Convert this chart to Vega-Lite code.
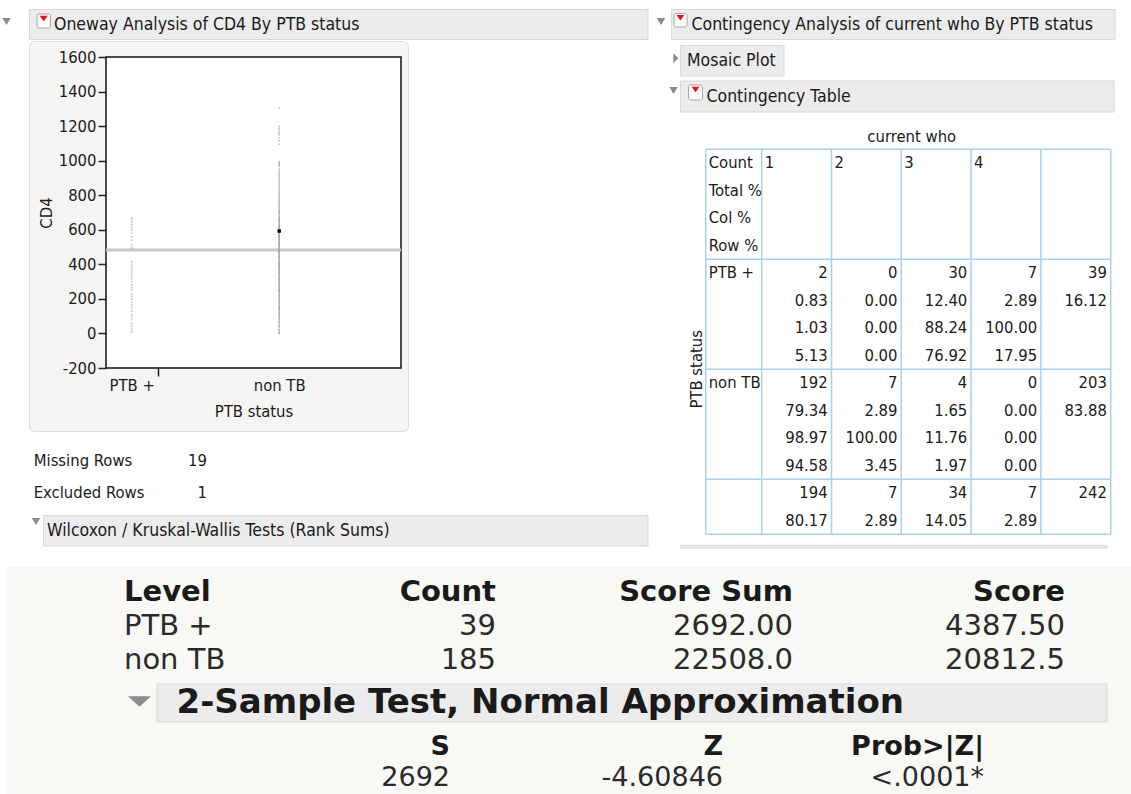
{
"$schema":"https://vega.github.io/schema/vega-lite/v6.json",
"width":1131,"height":794,"padding":0,"autosize":{"type":"none"},
"background":"#ffffff",
"config":{"view":{"stroke":null},"text":{"font":"DejaVu Sans Condensed","fontSize":16.5,"color":"#1a1a1a"}},
"datasets":{
"one":[{}],
"cd4":[
{"g":"PTB +","v":5},{"g":"PTB +","v":15},{"g":"PTB +","v":30},{"g":"PTB +","v":45},{"g":"PTB +","v":60},{"g":"PTB +","v":80},{"g":"PTB +","v":97},{"g":"PTB +","v":110},{"g":"PTB +","v":130},{"g":"PTB +","v":150},
{"g":"PTB +","v":165},{"g":"PTB +","v":180},{"g":"PTB +","v":200},{"g":"PTB +","v":215},{"g":"PTB +","v":230},{"g":"PTB +","v":251},{"g":"PTB +","v":265},{"g":"PTB +","v":280},{"g":"PTB +","v":300},{"g":"PTB +","v":315},
{"g":"PTB +","v":328},{"g":"PTB +","v":340},{"g":"PTB +","v":355},{"g":"PTB +","v":370},{"g":"PTB +","v":385},{"g":"PTB +","v":400},{"g":"PTB +","v":415},{"g":"PTB +","v":490},{"g":"PTB +","v":500},{"g":"PTB +","v":515},
{"g":"PTB +","v":540},{"g":"PTB +","v":560},{"g":"PTB +","v":580},{"g":"PTB +","v":600},{"g":"PTB +","v":615},{"g":"PTB +","v":630},{"g":"PTB +","v":645},{"g":"PTB +","v":660},{"g":"PTB +","v":670},
{"g":"non TB","v":1303},{"g":"non TB","v":1198},{"g":"non TB","v":1185},{"g":"non TB","v":1170},{"g":"non TB","v":1160},{"g":"non TB","v":1150},{"g":"non TB","v":1132},{"g":"non TB","v":1115},{"g":"non TB","v":1095},
{"g":"non TB","v":0},{"g":"non TB","v":2},{"g":"non TB","v":9},{"g":"non TB","v":18},{"g":"non TB","v":22},{"g":"non TB","v":35},{"g":"non TB","v":41},{"g":"non TB","v":47},{"g":"non TB","v":58},{"g":"non TB","v":64},
{"g":"non TB","v":71},{"g":"non TB","v":80},{"g":"non TB","v":86},{"g":"non TB","v":93},{"g":"non TB","v":99},{"g":"non TB","v":104},{"g":"non TB","v":112},{"g":"non TB","v":118},{"g":"non TB","v":121},{"g":"non TB","v":128},
{"g":"non TB","v":135},{"g":"non TB","v":140},{"g":"non TB","v":146},{"g":"non TB","v":151},{"g":"non TB","v":158},{"g":"non TB","v":163},{"g":"non TB","v":170},{"g":"non TB","v":174},{"g":"non TB","v":181},{"g":"non TB","v":187},
{"g":"non TB","v":192},{"g":"non TB","v":199},{"g":"non TB","v":204},{"g":"non TB","v":210},{"g":"non TB","v":215},{"g":"non TB","v":221},{"g":"non TB","v":228},{"g":"non TB","v":233},{"g":"non TB","v":240},{"g":"non TB","v":245},
{"g":"non TB","v":250},{"g":"non TB","v":256},{"g":"non TB","v":262},{"g":"non TB","v":268},{"g":"non TB","v":273},{"g":"non TB","v":279},{"g":"non TB","v":284},{"g":"non TB","v":290},{"g":"non TB","v":296},{"g":"non TB","v":301},
{"g":"non TB","v":307},{"g":"non TB","v":312},{"g":"non TB","v":318},{"g":"non TB","v":323},{"g":"non TB","v":330},{"g":"non TB","v":336},{"g":"non TB","v":341},{"g":"non TB","v":347},{"g":"non TB","v":352},{"g":"non TB","v":358},
{"g":"non TB","v":363},{"g":"non TB","v":369},{"g":"non TB","v":375},{"g":"non TB","v":380},{"g":"non TB","v":386},{"g":"non TB","v":391},{"g":"non TB","v":397},{"g":"non TB","v":402},{"g":"non TB","v":408},{"g":"non TB","v":414},
{"g":"non TB","v":419},{"g":"non TB","v":425},{"g":"non TB","v":430},{"g":"non TB","v":436},{"g":"non TB","v":441},{"g":"non TB","v":447},{"g":"non TB","v":452},{"g":"non TB","v":458},{"g":"non TB","v":463},{"g":"non TB","v":469},
{"g":"non TB","v":474},{"g":"non TB","v":480},{"g":"non TB","v":486},{"g":"non TB","v":491},{"g":"non TB","v":497},{"g":"non TB","v":502},{"g":"non TB","v":508},{"g":"non TB","v":513},{"g":"non TB","v":519},{"g":"non TB","v":524},
{"g":"non TB","v":530},{"g":"non TB","v":535},{"g":"non TB","v":541},{"g":"non TB","v":546},{"g":"non TB","v":552},{"g":"non TB","v":558},{"g":"non TB","v":563},{"g":"non TB","v":569},{"g":"non TB","v":574},{"g":"non TB","v":580},
{"g":"non TB","v":585},{"g":"non TB","v":591},{"g":"non TB","v":593,"sel":true},{"g":"non TB","v":602},{"g":"non TB","v":608},{"g":"non TB","v":613},{"g":"non TB","v":619},{"g":"non TB","v":624},{"g":"non TB","v":630},{"g":"non TB","v":636},
{"g":"non TB","v":641},{"g":"non TB","v":647},{"g":"non TB","v":652},{"g":"non TB","v":658},{"g":"non TB","v":664},{"g":"non TB","v":670},{"g":"non TB","v":676},{"g":"non TB","v":683},{"g":"non TB","v":690},{"g":"non TB","v":698},
{"g":"non TB","v":705},{"g":"non TB","v":712},{"g":"non TB","v":720},{"g":"non TB","v":728},{"g":"non TB","v":735},{"g":"non TB","v":743},{"g":"non TB","v":750},{"g":"non TB","v":758},{"g":"non TB","v":766},{"g":"non TB","v":775},
{"g":"non TB","v":783},{"g":"non TB","v":792},{"g":"non TB","v":800},{"g":"non TB","v":810},{"g":"non TB","v":818},{"g":"non TB","v":827},{"g":"non TB","v":836},{"g":"non TB","v":845},{"g":"non TB","v":855},{"g":"non TB","v":864},
{"g":"non TB","v":874},{"g":"non TB","v":884},{"g":"non TB","v":893},{"g":"non TB","v":903},{"g":"non TB","v":913},{"g":"non TB","v":922},{"g":"non TB","v":932},{"g":"non TB","v":942},{"g":"non TB","v":955},{"g":"non TB","v":968},
{"g":"non TB","v":975},{"g":"non TB","v":982},{"g":"non TB","v":988},{"g":"non TB","v":994},{"g":"non TB","v":600},{"g":"non TB","v":410},{"g":"non TB","v":320},{"g":"non TB","v":560},{"g":"non TB","v":250},{"g":"non TB","v":150},
{"g":"non TB","v":480},{"g":"non TB","v":520},{"g":"non TB","v":540},{"g":"non TB","v":380},{"g":"non TB","v":445},{"g":"non TB","v":505},{"g":"non TB","v":610},{"g":"non TB","v":660},{"g":"non TB","v":295},{"g":"non TB","v":355},
{"g":"non TB","v":395},{"g":"non TB","v":470},{"g":"non TB","v":515},{"g":"non TB","v":575},{"g":"non TB","v":620},{"g":"non TB","v":700}
],
"ct":[
{"col":0,"line":0,"t":"Count"},{"col":1,"line":0,"t":"1"},{"col":2,"line":0,"t":"2"},{"col":3,"line":0,"t":"3"},{"col":4,"line":0,"t":"4"},
{"col":0,"line":1,"t":"Total %"},{"col":0,"line":2,"t":"Col %"},{"col":0,"line":3,"t":"Row %"},
{"col":0,"line":4,"t":"PTB +"},{"col":1,"line":4,"t":"2"},{"col":2,"line":4,"t":"0"},{"col":3,"line":4,"t":"30"},{"col":4,"line":4,"t":"7"},{"col":5,"line":4,"t":"39"},
{"col":1,"line":5,"t":"0.83"},{"col":2,"line":5,"t":"0.00"},{"col":3,"line":5,"t":"12.40"},{"col":4,"line":5,"t":"2.89"},{"col":5,"line":5,"t":"16.12"},
{"col":1,"line":6,"t":"1.03"},{"col":2,"line":6,"t":"0.00"},{"col":3,"line":6,"t":"88.24"},{"col":4,"line":6,"t":"100.00"},
{"col":1,"line":7,"t":"5.13"},{"col":2,"line":7,"t":"0.00"},{"col":3,"line":7,"t":"76.92"},{"col":4,"line":7,"t":"17.95"},
{"col":0,"line":8,"t":"non TB"},{"col":1,"line":8,"t":"192"},{"col":2,"line":8,"t":"7"},{"col":3,"line":8,"t":"4"},{"col":4,"line":8,"t":"0"},{"col":5,"line":8,"t":"203"},
{"col":1,"line":9,"t":"79.34"},{"col":2,"line":9,"t":"2.89"},{"col":3,"line":9,"t":"1.65"},{"col":4,"line":9,"t":"0.00"},{"col":5,"line":9,"t":"83.88"},
{"col":1,"line":10,"t":"98.97"},{"col":2,"line":10,"t":"100.00"},{"col":3,"line":10,"t":"11.76"},{"col":4,"line":10,"t":"0.00"},
{"col":1,"line":11,"t":"94.58"},{"col":2,"line":11,"t":"3.45"},{"col":3,"line":11,"t":"1.97"},{"col":4,"line":11,"t":"0.00"},
{"col":1,"line":12,"t":"194"},{"col":2,"line":12,"t":"7"},{"col":3,"line":12,"t":"34"},{"col":4,"line":12,"t":"7"},{"col":5,"line":12,"t":"242"},
{"col":1,"line":13,"t":"80.17"},{"col":2,"line":13,"t":"2.89"},{"col":3,"line":13,"t":"14.05"},{"col":4,"line":13,"t":"2.89"}
],
"gv":[{"e":0},{"e":1},{"e":2},{"e":3},{"e":4},{"e":5},{"e":6}],
"gh":[{"h":0},{"h":4},{"h":8},{"h":12},{"h":14}],
"miss":[{"r":0,"k":"Missing Rows","n":"19"},{"r":1,"k":"Excluded Rows","n":"1"}],
"rs":[
{"c":0,"r":0,"t":"Level"},{"c":1,"r":0,"t":"Count"},{"c":2,"r":0,"t":"Score Sum"},{"c":3,"r":0,"t":"Score"},
{"c":0,"r":1,"t":"PTB +"},{"c":1,"r":1,"t":"39"},{"c":2,"r":1,"t":"2692.00"},{"c":3,"r":1,"t":"4387.50"},
{"c":0,"r":2,"t":"non TB"},{"c":1,"r":2,"t":"185"},{"c":2,"r":2,"t":"22508.0"},{"c":3,"r":2,"t":"20812.5"}
],
"ts":[
{"c":0,"r":0,"t":"S"},{"c":1,"r":0,"t":"Z"},{"c":2,"r":0,"t":"Prob>|Z|"},
{"c":0,"r":1,"t":"2692"},{"c":1,"r":1,"t":"-4.60846"},{"c":2,"r":1,"t":"<.0001*"}
]
},
"layer":[
{"data":{"name":"one"},"mark":{"type":"rect","fill":"#f8f8f5"},"encoding":{"x":{"value":7},"x2":{"value":1131},"y":{"value":567},"y2":{"value":794}}},
{"data":{"name":"one"},"mark":{"type":"rect","fill":"#f5f5f4","stroke":"#dedede","strokeWidth":1,"cornerRadius":5},"encoding":{"x":{"value":29.5},"x2":{"value":408.5},"y":{"value":41.5},"y2":{"value":431.5}}},
{"data":{"name":"one"},"mark":{"type":"rect","fill":"#ececec","stroke":"#d8d8d8","strokeWidth":1},"encoding":{"x":{"value":29.5},"x2":{"value":648},"y":{"value":9.5},"y2":{"value":39.5}}},
{"data":{"name":"one"},"mark":{"type":"rect","fill":"#ececec","stroke":"#d8d8d8","strokeWidth":1},"encoding":{"x":{"value":671.5},"x2":{"value":1115},"y":{"value":9.5},"y2":{"value":39.5}}},
{"data":{"name":"one"},"mark":{"type":"rect","fill":"#ececec","stroke":"#d8d8d8","strokeWidth":1},"encoding":{"x":{"value":680.5},"x2":{"value":784},"y":{"value":45.5},"y2":{"value":76}}},
{"data":{"name":"one"},"mark":{"type":"rect","fill":"#ececec","stroke":"#d8d8d8","strokeWidth":1},"encoding":{"x":{"value":680.5},"x2":{"value":1114},"y":{"value":81},"y2":{"value":112}}},
{"data":{"name":"one"},"mark":{"type":"rect","fill":"#ececec","stroke":"#d8d8d8","strokeWidth":1},"encoding":{"x":{"value":43.5},"x2":{"value":648},"y":{"value":515.5},"y2":{"value":546}}},
{"data":{"name":"one"},"mark":{"type":"rect","fill":"#ececec","stroke":"#d8d8d8","strokeWidth":1},"encoding":{"x":{"value":680.5},"x2":{"value":1107},"y":{"value":545.5},"y2":{"value":548}}},
{"data":{"name":"one"},"mark":{"type":"rect","fill":"#ececec","stroke":"#d8d8d8","strokeWidth":1},"encoding":{"x":{"value":157},"x2":{"value":1107},"y":{"value":684},"y2":{"value":722}}},
{"data":{"name":"one"},"mark":{"type":"rect","fill":"#fbfbfb","stroke":"#a8a8a8","strokeWidth":1,"cornerRadius":2},"encoding":{"x":{"value":37},"x2":{"value":50.5},"y":{"value":14},"y2":{"value":28}}},
{"data":{"name":"one"},"mark":{"type":"rect","fill":"#fbfbfb","stroke":"#a8a8a8","strokeWidth":1,"cornerRadius":2},"encoding":{"x":{"value":674},"x2":{"value":687},"y":{"value":13.5},"y2":{"value":27}}},
{"data":{"name":"one"},"mark":{"type":"rect","fill":"#fbfbfb","stroke":"#a8a8a8","strokeWidth":1,"cornerRadius":2},"encoding":{"x":{"value":688.5},"x2":{"value":702.5},"y":{"value":85},"y2":{"value":100}}},
{"data":{"name":"one"},"mark":{"type":"point","shape":"M-1,-0.7L1,-0.7L0,0.7Z","size":64,"filled":true,"color":"#e3101a","opacity":1},"encoding":{"x":{"value":43.7},"y":{"value":18.5}}},
{"data":{"name":"one"},"mark":{"type":"point","shape":"M-1,-0.7L1,-0.7L0,0.7Z","size":64,"filled":true,"color":"#e3101a","opacity":1},"encoding":{"x":{"value":680.4},"y":{"value":17.8}}},
{"data":{"name":"one"},"mark":{"type":"point","shape":"M-1,-0.7L1,-0.7L0,0.7Z","size":64,"filled":true,"color":"#e3101a","opacity":1},"encoding":{"x":{"value":695.5},"y":{"value":89.5}}},
{"data":{"name":"one"},"mark":{"type":"point","shape":"M-1,-0.8L1,-0.8L0,0.8Z","size":72,"filled":true,"color":"#8c8c8c","opacity":1},"encoding":{"x":{"value":6.5},"y":{"value":21.5}}},
{"data":{"name":"one"},"mark":{"type":"point","shape":"M-1,-0.8L1,-0.8L0,0.8Z","size":72,"filled":true,"color":"#8c8c8c","opacity":1},"encoding":{"x":{"value":661},"y":{"value":21.5}}},
{"data":{"name":"one"},"mark":{"type":"point","shape":"M-0.5,-1L0.5,0L-0.5,1Z","size":100,"filled":true,"color":"#8c8c8c","opacity":1},"encoding":{"x":{"value":675.8},"y":{"value":58.3}}},
{"data":{"name":"one"},"mark":{"type":"point","shape":"M-1,-0.8L1,-0.8L0,0.8Z","size":72,"filled":true,"color":"#8c8c8c","opacity":1},"encoding":{"x":{"value":673.5},"y":{"value":90.5}}},
{"data":{"name":"one"},"mark":{"type":"point","shape":"M-1,-0.8L1,-0.8L0,0.8Z","size":72,"filled":true,"color":"#8c8c8c","opacity":1},"encoding":{"x":{"value":36},"y":{"value":521.5}}},
{"data":{"name":"one"},"mark":{"type":"point","shape":"M-1,-0.45L1,-0.45L0,0.45Z","size":529,"filled":true,"color":"#8c8c8c","opacity":1},"encoding":{"x":{"value":139.5},"y":{"value":701.5}}},
{"data":{"name":"one"},"mark":{"type":"text","align":"left","baseline":"middle","fontSize":17.5,"text":"Oneway Analysis of CD4 By PTB status"},"encoding":{"x":{"value":54},"y":{"value":24.5}}},
{"data":{"name":"one"},"mark":{"type":"text","align":"left","baseline":"middle","fontSize":17.5,"text":"Contingency Analysis of current who By PTB status"},"encoding":{"x":{"value":691.5},"y":{"value":24.5}}},
{"data":{"name":"one"},"mark":{"type":"text","align":"left","baseline":"middle","fontSize":17.5,"text":"Mosaic Plot"},"encoding":{"x":{"value":687},"y":{"value":61}}},
{"data":{"name":"one"},"mark":{"type":"text","align":"left","baseline":"middle","fontSize":17.5,"text":"Contingency Table"},"encoding":{"x":{"value":706.5},"y":{"value":96.7}}},
{"data":{"name":"one"},"mark":{"type":"text","align":"left","baseline":"middle","fontSize":17.5,"text":"Wilcoxon / Kruskal-Wallis Tests (Rank Sums)"},"encoding":{"x":{"value":47},"y":{"value":531}}},
{"data":{"name":"one"},"mark":{"type":"text","align":"left","baseline":"middle","fontSize":34,"font":"DejaVu Sans","fontWeight":"bold","color":"#1a1a1a","text":"2-Sample Test, Normal Approximation"},"encoding":{"x":{"value":176.5},"y":{"value":703}}},
{"data":{"name":"miss"},"layer":[
 {"mark":{"type":"text","align":"left","baseline":"middle"},"encoding":{"x":{"value":33.7},"y":{"field":"r","type":"quantitative","scale":{"domain":[0,1],"range":[461,493]},"axis":null},"text":{"field":"k"}}},
 {"mark":{"type":"text","align":"right","baseline":"middle"},"encoding":{"x":{"value":207},"y":{"field":"r","type":"quantitative","scale":{"domain":[0,1],"range":[461,493]},"axis":null},"text":{"field":"n"}}}
]},
{"layer":[
 {"layer":[
  {"data":{"name":"one"},"mark":{"type":"rect","fill":"#ffffff","stroke":"#111111","strokeWidth":1.5},"encoding":{"x":{"datum":0,"type":"quantitative","scale":{"domain":[0,1],"range":[106,401]},"axis":null},"x2":{"datum":1},"y":{"datum":-200,"type":"quantitative","scale":{"domain":[-200,1600],"range":[368,57],"nice":false,"zero":false},"axis":null},"y2":{"datum":1600}}},
  {"data":{"name":"one"},"mark":{"type":"rule","color":"#c9c9c9","strokeWidth":3},"encoding":{"x":{"datum":0,"type":"quantitative","axis":null},"x2":{"datum":1},"y":{"datum":483,"type":"quantitative","axis":null}}}
 ]},
 {"data":{"name":"cd4"},"layer":[
  {"mark":{"type":"square","size":3,"color":"#9a9a9a","opacity":0.55},
   "encoding":{
    "x":{"field":"g","type":"nominal","scale":{"type":"point","domain":["PTB +","non TB"],"range":[106,401],"padding":0.5,"align":0.174},
      "axis":{"orient":"bottom","offset":-426,"zindex":1,"title":"PTB status","titleFont":"DejaVu Sans Condensed","titleFontSize":16.5,"titleFontWeight":"normal","titleColor":"#1a1a1a","titleX":253.5,"titleY":43,"titleBaseline":"middle","labelFont":"DejaVu Sans Condensed","labelFontSize":16.5,"labelColor":"#1a1a1a","labelAngle":0,"labelPadding":1,"labelOffset":-26,"tickSize":8,"tickWidth":1.5,"tickOffset":26,"tickColor":{"condition":{"test":"datum.value === 'PTB +'","value":"#222222"},"value":"transparent"},"domain":false,"grid":false}},
    "y":{"field":"v","type":"quantitative","scale":{"domain":[-200,1600],"range":[368,57],"nice":false,"zero":false},
      "axis":{"orient":"left","offset":-106,"zindex":1,"values":[-200,0,200,400,600,800,1000,1200,1400,1600],"labelExpr":"'' + datum.value","title":"CD4","titleFont":"DejaVu Sans Condensed","titleFontSize":16.5,"titleFontWeight":"normal","titleColor":"#1a1a1a","titleX":-60,"titleY":212.5,"titleAngle":-90,"titleBaseline":"middle","titleAlign":"center","labelFont":"DejaVu Sans Condensed","labelFontSize":16.5,"labelColor":"#1a1a1a","labelPadding":2,"tickSize":8,"tickWidth":1.5,"tickColor":"#222222","domain":false,"grid":false}}}},
  {"transform":[{"filter":"datum.sel === true"}],"mark":{"type":"square","size":12,"color":"#000000","opacity":1},
   "encoding":{"x":{"field":"g","type":"nominal"},"y":{"field":"v","type":"quantitative"}}}
 ]}
 ],
 "resolve":{"scale":{"x":"independent"},"axis":{"x":"independent","y":"independent"}}
},
{"layer":[
 {"data":{"name":"one"},"mark":{"type":"rect","fill":"#ffffff"},"encoding":{"x":{"datum":0,"type":"quantitative","scale":{"domain":[0,1,6],"range":[705.7,761.7,1110.7]},"axis":null},"x2":{"datum":6},"y":{"datum":0,"type":"quantitative","scale":{"domain":[0,14],"range":[149.3,534.3]},"axis":null},"y2":{"datum":14}}},
 {"data":{"name":"gv"},"mark":{"type":"rule","color":"#a9cff2","strokeWidth":1.5},"encoding":{"x":{"field":"e","type":"quantitative","axis":null},"y":{"datum":0,"type":"quantitative","axis":null},"y2":{"datum":14}}},
 {"data":{"name":"gh"},"mark":{"type":"rule","color":"#a9cff2","strokeWidth":1.5},"encoding":{"y":{"field":"h","type":"quantitative","axis":null},"x":{"datum":0,"type":"quantitative","axis":null},"x2":{"datum":6}}},
 {"data":{"name":"ct"},"transform":[{"filter":"datum.col == 0 || datum.line == 0"}],"mark":{"type":"text","align":"left","baseline":"middle","dx":3,"dy":13.75},"encoding":{"x":{"field":"col","type":"quantitative","axis":null},"y":{"field":"line","type":"quantitative","axis":null},"text":{"field":"t"}}},
 {"data":{"name":"ct"},"transform":[{"filter":"datum.col > 0 && datum.line > 0"}],"mark":{"type":"text","align":"right","baseline":"middle","dx":66,"dy":13.75},"encoding":{"x":{"field":"col","type":"quantitative","axis":null},"y":{"field":"line","type":"quantitative","axis":null},"text":{"field":"t"}}},
 {"data":{"name":"one"},"mark":{"type":"text","align":"center","baseline":"middle","text":"current who"},"encoding":{"x":{"datum":3.15,"type":"quantitative","axis":null},"y":{"datum":-0.45,"type":"quantitative","axis":null}}},
 {"data":{"name":"one"},"mark":{"type":"text","align":"center","baseline":"middle","angle":270,"text":"PTB status"},"encoding":{"x":{"datum":-0.16,"type":"quantitative","axis":null},"y":{"datum":8,"type":"quantitative","axis":null}}}
]},
{"data":{"name":"rs"},"layer":[
 {"transform":[{"filter":"datum.r == 0 && datum.c == 0"}],"mark":{"type":"text","align":"left","baseline":"middle","font":"DejaVu Sans","fontSize":29,"fontWeight":"bold","color":"#1a1a1a"},"encoding":{"x":{"field":"c","type":"quantitative","scale":{"domain":[0,1,2,3],"range":[124,496,793,1065]},"axis":null},"y":{"field":"r","type":"quantitative","scale":{"domain":[0,2],"range":[591.7,660]},"axis":null},"text":{"field":"t"}}},
 {"transform":[{"filter":"datum.r == 0 && datum.c > 0"}],"mark":{"type":"text","align":"right","baseline":"middle","font":"DejaVu Sans","fontSize":29,"fontWeight":"bold","color":"#1a1a1a"},"encoding":{"x":{"field":"c","type":"quantitative","axis":null},"y":{"field":"r","type":"quantitative","axis":null},"text":{"field":"t"}}},
 {"transform":[{"filter":"datum.r > 0 && datum.c == 0"}],"mark":{"type":"text","align":"left","baseline":"middle","font":"DejaVu Sans","fontSize":29,"color":"#2a2a2a"},"encoding":{"x":{"field":"c","type":"quantitative","axis":null},"y":{"field":"r","type":"quantitative","axis":null},"text":{"field":"t"}}},
 {"transform":[{"filter":"datum.r > 0 && datum.c > 0"}],"mark":{"type":"text","align":"right","baseline":"middle","font":"DejaVu Sans","fontSize":29,"color":"#2a2a2a"},"encoding":{"x":{"field":"c","type":"quantitative","axis":null},"y":{"field":"r","type":"quantitative","axis":null},"text":{"field":"t"}}}
]},
{"data":{"name":"ts"},"layer":[
 {"transform":[{"filter":"datum.r == 0"}],"mark":{"type":"text","align":"right","baseline":"middle","font":"DejaVu Sans","fontSize":27,"fontWeight":"bold","color":"#1a1a1a"},"encoding":{"x":{"field":"c","type":"quantitative","scale":{"domain":[0,1,2],"range":[450,723,984]},"axis":null},"y":{"field":"r","type":"quantitative","scale":{"domain":[0,1],"range":[746.7,778.3]},"axis":null},"text":{"field":"t"}}},
 {"transform":[{"filter":"datum.r == 1"}],"mark":{"type":"text","align":"right","baseline":"middle","font":"DejaVu Sans","fontSize":27,"color":"#2a2a2a"},"encoding":{"x":{"field":"c","type":"quantitative","axis":null},"y":{"field":"r","type":"quantitative","axis":null},"text":{"field":"t"}}}
]}
],
"resolve":{"scale":{"x":"independent","y":"independent"},"axis":{"x":"independent","y":"independent"}}
}
